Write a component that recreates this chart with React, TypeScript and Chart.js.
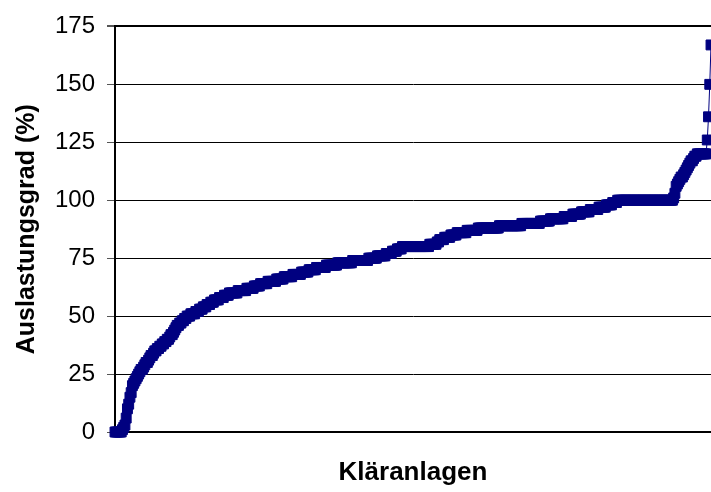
import React, { useEffect, useRef } from "react";
import { Chart, registerables } from "chart.js";

Chart.register(...registerables);

// Auslastungsgrad (%) je Kläranlage, aufsteigend sortiert
const auslastung: number[] = [
  0, 0, 0, 0, 0, 0, 1, 2, 3, 6, 10, 12, 15, 17, 20, 21, 22, 23, 24, 25,
  26, 27, 27, 28, 29, 30, 30, 31, 32, 33, 33, 34, 35, 35, 36, 36, 37, 37, 38, 38,
  39, 39, 40, 40, 41, 42, 42, 43, 44, 45, 46, 46, 47, 47, 48, 48, 49, 49, 50, 50,
  50, 51, 51, 51, 51, 52, 52, 52, 53, 53, 53, 54, 54, 54, 55, 55, 55, 56, 56, 56,
  57, 57, 57, 57, 58, 58, 58, 58, 59, 59, 59, 59, 60, 60, 60, 60, 60, 60, 60, 61,
  61, 61, 61, 61, 61, 61, 62, 62, 62, 62, 62, 62, 63, 63, 63, 63, 63, 64, 64, 64,
  64, 64, 64, 65, 65, 65, 65, 65, 65, 65, 66, 66, 66, 66, 66, 66, 67, 67, 67, 67,
  67, 67, 67, 68, 68, 68, 68, 68, 68, 68, 69, 69, 69, 69, 69, 69, 70, 70, 70, 70,
  70, 70, 71, 71, 71, 71, 71, 71, 71, 71, 72, 72, 72, 72, 72, 72, 72, 72, 72, 73,
  73, 73, 73, 73, 73, 73, 73, 73, 73, 73, 73, 74, 74, 74, 74, 74, 74, 74, 74, 74,
  74, 74, 74, 74, 75, 75, 75, 75, 75, 75, 75, 76, 76, 76, 76, 76, 76, 76, 77, 77,
  77, 77, 77, 78, 78, 78, 78, 79, 79, 79, 79, 80, 80, 80, 80, 80, 80, 80, 80, 80,
  80, 80, 80, 80, 80, 80, 80, 80, 80, 80, 80, 80, 80, 81, 81, 81, 81, 81, 81, 82,
  82, 83, 83, 83, 83, 84, 84, 84, 84, 84, 85, 85, 85, 85, 85, 86, 86, 86, 86, 86,
  86, 86, 86, 87, 87, 87, 87, 87, 87, 87, 87, 87, 88, 88, 88, 88, 88, 88, 88, 88,
  88, 88, 88, 88, 88, 88, 88, 88, 88, 89, 89, 89, 89, 89, 89, 89, 89, 89, 89, 89,
  89, 89, 89, 89, 89, 89, 89, 90, 90, 90, 90, 90, 90, 90, 90, 90, 90, 90, 90, 90,
  90, 90, 91, 91, 91, 91, 91, 91, 91, 91, 92, 92, 92, 92, 92, 92, 92, 92, 92, 92,
  92, 93, 93, 93, 93, 93, 93, 93, 94, 94, 94, 94, 94, 94, 94, 95, 95, 95, 95, 95,
  95, 95, 96, 96, 96, 96, 96, 96, 96, 97, 97, 97, 97, 97, 97, 98, 98, 98, 98, 98,
  99, 99, 99, 99, 100, 100, 100, 100, 100, 100, 100, 100, 100, 100, 100, 100, 100, 100, 100, 100,
  100, 100, 100, 100, 100, 100, 100, 100, 100, 100, 100, 100, 100, 100, 100, 100, 100, 100, 100, 100,
  100, 100, 100, 100, 100, 100, 100, 100, 100, 101, 103, 106, 107, 108, 109, 110, 110, 111, 112, 113,
  114, 115, 116, 117, 117, 118, 119, 119, 120, 120, 120, 120, 120, 120, 120, 120, 126, 136, 150, 167,
];

// Kläranlagen (ohne Beschriftung auf der Achse)
const klaeranlagen: string[] = auslastung.map((_, i) => String(i + 1));

const yMin = 0;
const yMax = 175;
const yStep = 25;

const xTitle = "Kläranlagen";
const yTitle = "Auslastungsgrad (%)";

export default function App() {
  const canvasRef = useRef<HTMLCanvasElement | null>(null);

  useEffect(() => {
    if (!canvasRef.current) return;
    Chart.defaults.font.family = "'Liberation Sans', Arial, sans-serif";
    const chart = new Chart(canvasRef.current, {
      type: "line",
      data: {
        labels: klaeranlagen,
        datasets: [
          {
            data: auslastung,
            borderColor: "#000080",
            borderWidth: 1,
            backgroundColor: "#000080",
            pointStyle: "rect",
            pointRadius: 7,
            pointHoverRadius: 7,
            pointBackgroundColor: "#000080",
            pointBorderColor: "#000080",
            pointBorderWidth: 1,
            tension: 0,
            fill: false,
            clip: false as any,
          },
        ],
      },
      options: {
        animation: false,
        responsive: false,
        maintainAspectRatio: false,
        layout: { autoPadding: false, padding: { top: 26, right: 0, bottom: 0, left: 0 } },
        plugins: {
          legend: { display: false },
          tooltip: { enabled: false },
          title: { display: false },
        },
        scales: {
          x: {
            type: "category",
            offset: false,
            grid: { display: false, drawTicks: false },
            border: { display: true, color: "#000", width: 2 },
            ticks: { display: false },
            title: {
              display: true,
              text: xTitle,
              color: "#000",
              font: { size: 26, weight: "bold" },
              padding: { top: 0, bottom: 4 },
            },
            afterFit: (scale: any) => {
              scale.height = 60;
            },
          },
          y: {
            min: yMin,
            max: yMax,
            ticks: {
              stepSize: yStep,
              color: "#000",
              font: { size: 24 },
              padding: 12,
            },
            grid: {
              color: "#000",
              tickColor: "#555",
              tickLength: 8,
              lineWidth: (ctx: any) => (ctx.tick && ctx.tick.value === yMax ? 2 : 1),
            },
            border: { display: true, color: "#000", width: 2 },
            title: {
              display: true,
              text: yTitle,
              color: "#000",
              font: { size: 25, weight: "bold" },
              padding: { top: 12, bottom: 12 },
            },
            afterFit: (scale: any) => {
              scale.width = 115;
            },
          },
        },
      },
    });
    return () => chart.destroy();
  }, []);

  return (
    <div style={{ position: "absolute", left: 0, top: 0, width: 711, height: 492, background: "#fff" }}>
      <canvas ref={canvasRef} width={711} height={492} />
    </div>
  );
}
